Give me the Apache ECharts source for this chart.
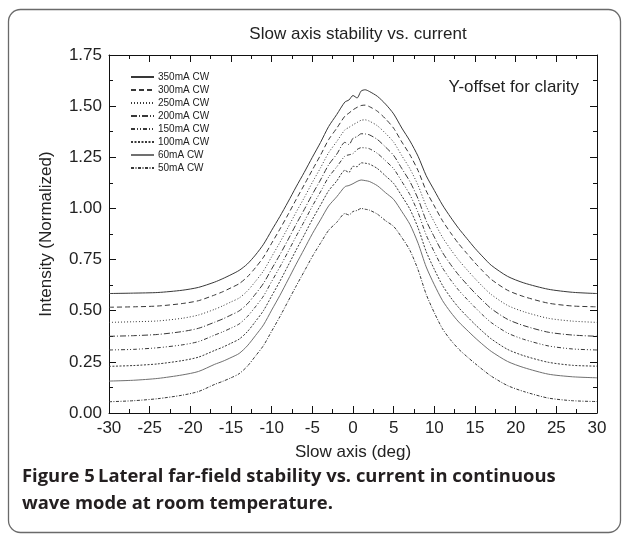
<!DOCTYPE html>
<html>
<head>
<meta charset="utf-8">
<script src="https://cdn.jsdelivr.net/npm/echarts@6/dist/echarts.min.js"></script>
<style>
  html, body { margin: 0; padding: 0; background: #ffffff; }
  #chart { width: 627px; height: 535px; }
</style>
</head>
<body>
<div id="chart"></div>
<script>
// Slow-axis far-field angle (deg)
const angles = [-30, -27, -24, -21, -19, -17, -16, -15, -14, -13, -12, -11, -10, -9, -8, -7, -6, -5, -4, -3, -2, -1, -0.5,
  0, 0.5, 1, 1.5, 2, 3, 4, 5, 6, 7, 8, 9, 10, 11, 12, 13, 14, 15, 16, 17, 19, 21, 24, 27, 30];

// Normalized intensity per drive current (vertically offset)
const cw350 = [0.584, 0.586, 0.589, 0.600, 0.614, 0.640, 0.657, 0.676, 0.697, 0.728, 0.772, 0.825, 0.893, 0.960, 1.031, 1.105, 1.176, 1.250, 1.322, 1.400, 1.459, 1.520, 1.530,
  1.552, 1.540, 1.574, 1.580, 1.572, 1.548, 1.510, 1.462, 1.393, 1.330, 1.255, 1.160, 1.088, 1.017, 0.957, 0.902, 0.853, 0.805, 0.762, 0.722, 0.668, 0.636, 0.605, 0.590, 0.584];
const cw300 = [0.517, 0.519, 0.523, 0.535, 0.549, 0.577, 0.593, 0.612, 0.632, 0.665, 0.710, 0.762, 0.830, 0.898, 0.969, 1.043, 1.115, 1.188, 1.260, 1.336, 1.392, 1.451, 1.466,
  1.482, 1.494, 1.503, 1.505, 1.498, 1.475, 1.438, 1.392, 1.325, 1.262, 1.185, 1.086, 1.012, 0.940, 0.881, 0.827, 0.780, 0.734, 0.692, 0.653, 0.600, 0.569, 0.537, 0.523, 0.519];
const cw250 = [0.443, 0.446, 0.450, 0.463, 0.479, 0.507, 0.524, 0.543, 0.562, 0.596, 0.643, 0.695, 0.764, 0.833, 0.906, 0.981, 1.052, 1.127, 1.198, 1.272, 1.327, 1.384, 1.396,
  1.409, 1.420, 1.431, 1.433, 1.427, 1.404, 1.367, 1.324, 1.258, 1.194, 1.113, 1.011, 0.933, 0.859, 0.800, 0.747, 0.701, 0.657, 0.616, 0.579, 0.526, 0.495, 0.463, 0.449, 0.443];
const cw200 = [0.375, 0.378, 0.384, 0.398, 0.414, 0.444, 0.460, 0.479, 0.499, 0.533, 0.581, 0.634, 0.704, 0.773, 0.846, 0.922, 0.994, 1.069, 1.139, 1.213, 1.265, 1.323, 1.312,
  1.343, 1.351, 1.365, 1.364, 1.360, 1.337, 1.300, 1.259, 1.195, 1.131, 1.047, 0.940, 0.860, 0.785, 0.726, 0.674, 0.629, 0.586, 0.547, 0.510, 0.458, 0.427, 0.395, 0.381, 0.375];
const cw150 = [0.308, 0.311, 0.319, 0.333, 0.349, 0.381, 0.397, 0.415, 0.435, 0.471, 0.519, 0.572, 0.643, 0.713, 0.787, 0.863, 0.936, 1.011, 1.081, 1.153, 1.203, 1.256, 1.262,
  1.268, 1.288, 1.297, 1.296, 1.292, 1.269, 1.233, 1.194, 1.132, 1.067, 0.980, 0.870, 0.787, 0.710, 0.651, 0.600, 0.557, 0.516, 0.477, 0.442, 0.391, 0.360, 0.328, 0.313, 0.308];
const cw100 = [0.228, 0.232, 0.240, 0.256, 0.273, 0.306, 0.322, 0.341, 0.361, 0.397, 0.447, 0.501, 0.572, 0.643, 0.719, 0.796, 0.870, 0.946, 1.016, 1.086, 1.134, 1.186, 1.176,
  1.206, 1.204, 1.223, 1.221, 1.217, 1.195, 1.159, 1.122, 1.061, 0.996, 0.905, 0.789, 0.702, 0.624, 0.565, 0.515, 0.473, 0.433, 0.396, 0.362, 0.311, 0.280, 0.248, 0.233, 0.229];
const cw60 = [0.156, 0.160, 0.169, 0.186, 0.203, 0.238, 0.253, 0.271, 0.291, 0.328, 0.378, 0.431, 0.503, 0.574, 0.650, 0.727, 0.801, 0.876, 0.944, 1.012, 1.057, 1.106, 1.112,
  1.121, 1.132, 1.139, 1.136, 1.132, 1.111, 1.077, 1.044, 0.985, 0.922, 0.830, 0.714, 0.627, 0.550, 0.493, 0.445, 0.406, 0.368, 0.333, 0.301, 0.252, 0.222, 0.190, 0.177, 0.172];
const cw50 = [0.055, 0.060, 0.070, 0.087, 0.105, 0.140, 0.155, 0.172, 0.192, 0.228, 0.278, 0.330, 0.400, 0.470, 0.545, 0.620, 0.692, 0.765, 0.830, 0.893, 0.932, 0.975, 0.968,
  0.985, 0.990, 1.000, 0.996, 0.992, 0.972, 0.940, 0.912, 0.858, 0.795, 0.700, 0.580, 0.490, 0.412, 0.357, 0.312, 0.276, 0.242, 0.210, 0.180, 0.134, 0.105, 0.073, 0.060, 0.056];

const curveNames = ['350mA CW', '300mA CW', '250mA CW', '200mA CW', '150mA CW', '100mA CW', '60mA CW', '50mA CW'];
const curveValues = [cw350, cw300, cw250, cw200, cw150, cw100, cw60, cw50];

// Axis ranges and tick spacing
const xRange = [-30, 30];
const xStep = 5;
const yRange = [0, 1.75];
const yStep = 0.25;

const dashes = ['solid', [5, 3], [1, 2], [6, 2, 1, 2], [4, 2, 1, 2, 1, 2], [2, 1.5], 'solid', [3, 1.5, 1, 1.5]];
const strokes = ['#383838', '#383838', '#383838', '#383838', '#383838', '#383838', '#707070', '#383838'];

const FONT = '"Liberation Sans", Arial, Helvetica, sans-serif';
const CAPTION_FONT = '"Open Sans", "Noto Sans", sans-serif';
const INK = '#222222';

const chart = echarts.init(document.getElementById('chart'), null, { renderer: 'canvas' });

const tickStyle = { show: true, inside: true, length: 7, lineStyle: { color: '#111', width: 1 } };
const minorStyle = { show: true, splitNumber: 2, length: 4, lineStyle: { color: '#111', width: 1 } };
const lineAxis = { show: true, onZero: false, lineStyle: { color: '#111', width: 1 } };

const series = curveNames.map((name, i) => ({
  name: name,
  type: 'line',
  xAxisIndex: 0,
  yAxisIndex: 0,
  showSymbol: false,
  symbol: 'none',
  smooth: 0.25,
  animation: false,
  lineStyle: { color: strokes[i], width: 1, type: dashes[i] },
  itemStyle: { color: strokes[i] },
  data: angles.map((a, k) => [a, curveValues[i][k]])
}));

chart.setOption({
  backgroundColor: '#ffffff',
  animation: false,
  textStyle: { fontFamily: FONT },
  title: {
    text: 'Slow axis stability vs. current',
    left: 353,
    textAlign: 'center',
    top: 21,
    textStyle: { fontFamily: FONT, fontSize: 17, fontWeight: 'normal', color: INK }
  },
  legend: {
    orient: 'vertical',
    left: 130,
    top: 72,
    itemWidth: 23,
    itemHeight: 10,
    itemGap: 3,
    padding: 0,
    selectedMode: false,
    itemStyle: { color: 'transparent', borderColor: 'transparent', borderWidth: 0, opacity: 0 },
    textStyle: { fontFamily: FONT, fontSize: 10, color: INK, padding: [0, 0, 0, -1] },
    data: curveNames
  },
  grid: { left: 109, right: 30, top: 55, bottom: 122, containLabel: false },
  xAxis: [
    {
      type: 'value', position: 'bottom', min: xRange[0], max: xRange[1], interval: xStep,
      axisLine: lineAxis, axisTick: tickStyle, minorTick: minorStyle,
      splitLine: { show: false }, minorSplitLine: { show: false },
      axisLabel: { fontFamily: FONT, fontSize: 17, color: INK, margin: 7 },
      name: 'Slow axis (deg)', nameLocation: 'middle', nameGap: 31,
      nameTextStyle: { fontFamily: FONT, fontSize: 17, color: INK }
    },
    {
      type: 'value', position: 'top', min: xRange[0], max: xRange[1], interval: xStep,
      axisLine: lineAxis, axisTick: tickStyle, minorTick: minorStyle,
      splitLine: { show: false }, axisLabel: { show: false }
    }
  ],
  yAxis: [
    {
      type: 'value', position: 'left', min: yRange[0], max: yRange[1], interval: yStep,
      axisLine: lineAxis, axisTick: tickStyle, minorTick: minorStyle,
      splitLine: { show: false }, minorSplitLine: { show: false },
      axisLabel: { fontFamily: FONT, fontSize: 17, color: INK, margin: 7, formatter: v => v.toFixed(2) },
      name: 'Intensity (Normalized)', nameLocation: 'middle', nameGap: 54, nameRotate: 90,
      nameTextStyle: { fontFamily: FONT, fontSize: 17, color: INK }
    },
    {
      type: 'value', position: 'right', min: yRange[0], max: yRange[1], interval: yStep,
      axisLine: lineAxis, axisTick: tickStyle, minorTick: minorStyle,
      splitLine: { show: false }, axisLabel: { show: false }
    }
  ],
  graphic: [
    {
      type: 'rect', silent: true, z: 0,
      shape: { x: 8.5, y: 9.5, width: 612, height: 523, r: 12 },
      style: { fill: 'none', stroke: '#6a6a6a', lineWidth: 1.3 }
    },
    {
      type: 'text', silent: true, right: 48, top: 79,
      style: { text: 'Y-offset for clarity', fontFamily: FONT, fontSize: 17, fill: INK }
    },
    {
      type: 'text', silent: true, left: 22, top: 463,
      style: {
        text: '{b|Figure 5} {t|Lateral far-field stability vs. current in continuous}\n{t|wave mode at room temperature.}',
        lineHeight: 27,
        rich: {
          b: { fontFamily: CAPTION_FONT, fontSize: 18.4, fontWeight: 'bold', fill: '#231f20', lineHeight: 27 },
          t: { fontFamily: CAPTION_FONT, fontSize: 18.4, fontWeight: 'bold', fill: '#231f20', lineHeight: 27 }
        }
      }
    }
  ],
  series: series
});
</script>
</body>
</html>
